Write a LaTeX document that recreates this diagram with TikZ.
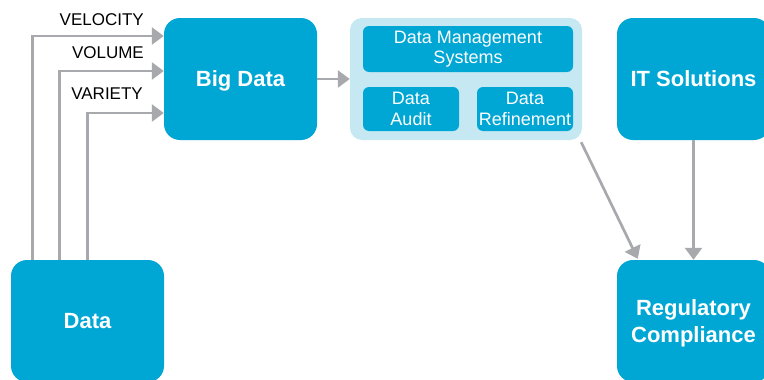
\documentclass[tikz,border=0pt]{standalone}
\usepackage{fontspec}
\setmainfont{Liberation Sans}
\usetikzlibrary{arrows.meta}
\definecolor{boxblue}{RGB}{0,167,212}
\definecolor{paleblue}{RGB}{198,232,242}
\definecolor{arrowgray}{RGB}{167,169,172}

\begin{document}
\begin{tikzpicture}[x=1pt, y=-1pt,
    bigbox/.style={fill=boxblue, rounded corners=16pt, minimum width=153pt, minimum height=122pt,
        text=white, align=center, font=\fontsize{22}{27}\selectfont\bfseries, inner sep=0pt, text depth=0pt},
    smallbox/.style={fill=boxblue, rounded corners=6pt, text=white, align=center,
        font=\fontsize{18}{20.5}\selectfont, inner sep=0pt},
    arr/.style={draw=arrowgray, line width=2.7pt, -{Triangle[length=12pt,width=17pt]}},
    lbl/.style={anchor=east, inner sep=0pt, font=\fontsize{17}{20}\selectfont}]
			%%%%% START %%%%%
			
			\useasboundingbox (0, 0) rectangle (764, 380);
			\clip (0, 0) rectangle (764, 380);
			
			\node[bigbox] (data) at (87.5, 321) {Data};
			\node[bigbox] (bigdata) at (240.5, 79) {Big Data};
			\node[bigbox] (itsol) at (693.5, 79) {IT Solutions};
			\node[bigbox] (regcomp) at (693.5, 321) {Regulatory\\Compliance};
			
			\node[fill=paleblue, rounded corners=12pt, minimum width=232pt, minimum height=122pt] (dmbox) at (466, 79) {};
			\node[smallbox, minimum width=210pt, minimum height=46pt] (dms) at (468, 49) {Data Management\\Systems};
			\node[smallbox, minimum width=96pt, minimum height=44pt] (audit) at (411, 109) {Data\\Audit};
			\node[smallbox, minimum width=96pt, minimum height=44pt] (refine) at (525, 109) {Data\\Refinement};
			
			\draw[arr] ([xshift=22pt]data.north west) |- ([yshift=43pt]bigdata.west);
			\draw[arr] ([xshift=49pt]data.north west) |- ([yshift=8pt]bigdata.west);
			\draw[arr] ([xshift=77pt]data.north west) |- ([yshift=-34pt]bigdata.west);
			
			\node[lbl] (lvel) at (144, 19.5) {VELOCITY};
			\node[lbl] (lvol) at (144, 53) {VOLUME};
			\node[lbl] (lvar) at (143, 93.5) {VARIETY};
			
			\draw[arr] (bigdata.east) -- (dmbox.west);
			\draw[arr] ([xshift=-1pt, yshift=-2pt]dmbox.south east) -- ([xshift=21pt, yshift=1pt]regcomp.north west);
			\draw[arr] (itsol.south) -- (regcomp.north);
			
			%%%%% END %%%%%
\end{tikzpicture}
\end{document}
